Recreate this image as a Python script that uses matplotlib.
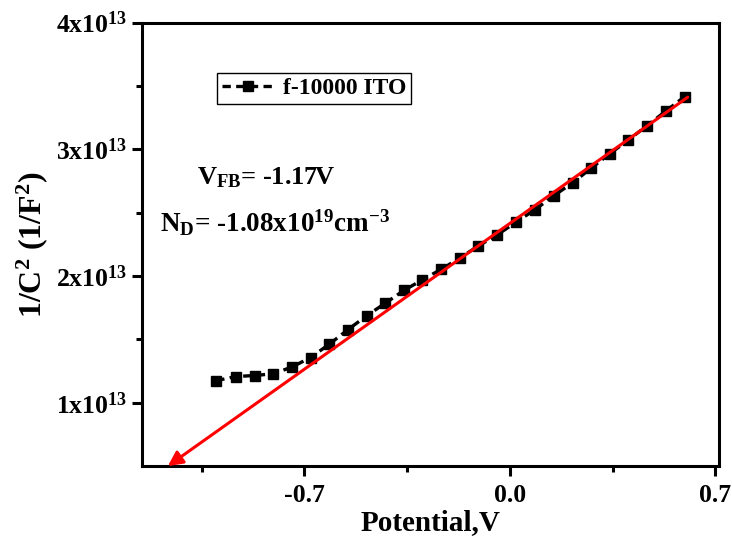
import matplotlib
matplotlib.use("Agg")
import matplotlib.pyplot as plt
from matplotlib.ticker import FixedLocator, FuncFormatter

# ---- data ----
potential = [-1.000, -0.934, -0.868, -0.806, -0.742, -0.679, -0.616, -0.552,
             -0.488, -0.424, -0.361, -0.298, -0.233, -0.171, -0.107, -0.044,
             0.022, 0.085, 0.149, 0.215, 0.277, 0.340, 0.404, 0.468, 0.532, 0.596]
inv_c2 = [1.174e13, 1.207e13, 1.215e13, 1.229e13, 1.282e13, 1.357e13, 1.460e13,
          1.576e13, 1.686e13, 1.786e13, 1.886e13, 1.970e13, 2.054e13, 2.141e13,
          2.238e13, 2.323e13, 2.427e13, 2.522e13, 2.633e13, 2.737e13, 2.851e13,
          2.964e13, 3.074e13, 3.187e13, 3.303e13, 3.416e13]
fit_x = [0.606, -1.165]          # linear fit, drawn from top-right to bottom-left
fit_y = [3.411e13, 0.5e13]
series_label = "f-10000 ITO"
x_major = [-0.7, 0.0, 0.7]
x_minor = [-1.05, -0.35, 0.35]
y_major = [1e13, 2e13, 3e13, 4e13]
y_minor = [1.5e13, 2.5e13, 3.5e13]
vfb_text = r"V$_{\mathbf{FB}}$= -1.17V"
nd_text = r"N$_{\mathbf{D}}$= -1.08x10$^{\mathbf{19}}$cm$^{\mathbf{-3}}$"

plt.rcParams['font.family'] = ['Liberation Serif', 'DejaVu Serif']
plt.rcParams['font.weight'] = 'bold'
plt.rcParams['mathtext.fontset'] = 'custom'
plt.rcParams['mathtext.rm'] = 'Liberation Serif:bold'
plt.rcParams['mathtext.bf'] = 'Liberation Serif:bold'
plt.rcParams['mathtext.it'] = 'Liberation Serif:bold'

fig = plt.figure(figsize=(7.32, 5.37), dpi=100)
ax = fig.add_axes([0.194, 0.132, 0.788, 0.826])

ax.plot(potential, inv_c2, color='black', lw=2.4, linestyle=(0, (2.5, 1.6)),
        marker='s', markersize=6.5, label=series_label)
ax.annotate('', xy=(fit_x[1], fit_y[1]), xytext=(fit_x[0], fit_y[0]),
            arrowprops=dict(arrowstyle='-|>', color='#ff0000', lw=2.2,
                            mutation_scale=22, shrinkA=0, shrinkB=0),
            annotation_clip=False)

ax.set_xlim(-1.253, 0.712)
ax.set_ylim(0.5e13, 4e13)

ax.xaxis.set_major_locator(FixedLocator(x_major))
ax.xaxis.set_minor_locator(FixedLocator(x_minor))
ax.yaxis.set_major_locator(FixedLocator(y_major))
ax.yaxis.set_minor_locator(FixedLocator(y_minor))
ax.xaxis.set_major_formatter(FuncFormatter(lambda v, p: f"{v:.1f}"))
ax.yaxis.set_major_formatter(FuncFormatter(lambda v, p: rf"{v/1e13:.0f}x10$^{{\mathbf{{13}}}}$"))

ax.tick_params(axis='both', which='major', direction='out', length=7, width=2.2,
               labelsize=18.5, top=False, right=False)
ax.tick_params(axis='both', which='minor', direction='out', length=4, width=2.2,
               top=False, right=False)
ax.tick_params(axis='x', pad=6)
ax.tick_params(axis='y', pad=4)
for sp in ax.spines.values():
    sp.set_linewidth(2.2)

ax.set_xlabel('Potential,V', fontsize=21, fontweight='bold', labelpad=1)
ax.set_ylabel(r'1/C$^{\mathbf{2}}$ (1/F$^{\mathbf{2}}$)', fontsize=23, fontweight='bold', labelpad=4)

ax.text(0.095, 0.634, vfb_text, transform=ax.transAxes, fontsize=19, fontweight='bold', va='baseline')
ax.text(0.031, 0.528, nd_text, transform=ax.transAxes, fontsize=19.5, fontweight='bold', va='baseline')

leg = ax.legend(loc='upper left', bbox_to_anchor=(0.13, 0.886), borderaxespad=0,
                fancybox=False, edgecolor='black', framealpha=1, numpoints=1,
                handlelength=2.2, prop={'size': 17, 'weight': 'bold'},
                borderpad=0.2, handletextpad=0.4)
leg.get_frame().set_linewidth(1.0)

fig.savefig('out.png', dpi=100)
